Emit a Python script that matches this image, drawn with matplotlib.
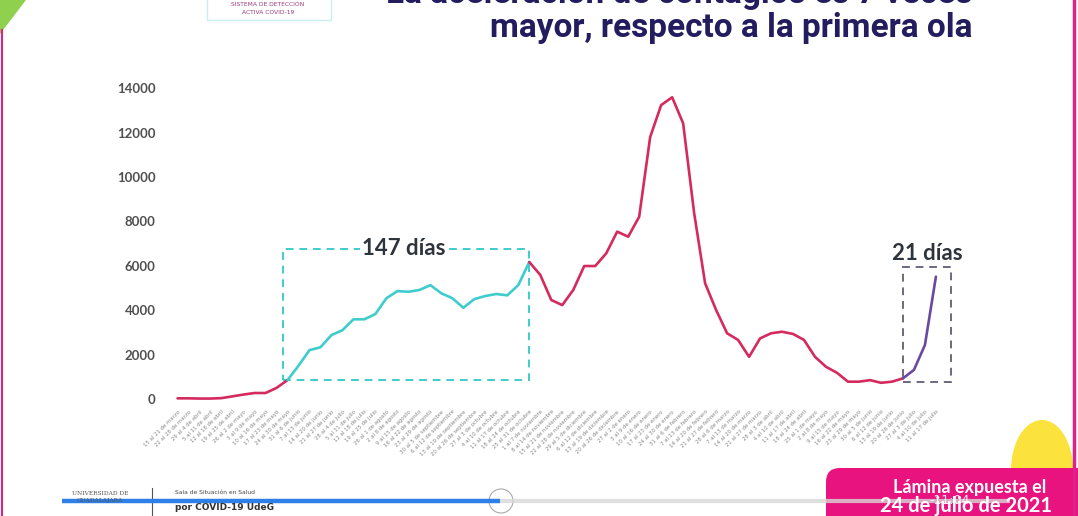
import matplotlib
matplotlib.use("Agg")
import matplotlib.pyplot as plt
from matplotlib.patches import Polygon, Rectangle, FancyBboxPatch, Ellipse, Circle
import pandas as pd

# ---------------- data ----------------
cases = [30, 30, 20, 20, 40, 120, 200, 270, 270, 500,
         850, 1500, 2200, 2330, 2880, 3100, 3590, 3590, 3830, 4540,
         4860, 4830, 4910, 5130, 4760, 4540, 4110, 4500, 4640, 4730,
         4670, 5130, 6170, 5590, 4460, 4230, 4910, 5990, 5990, 6560,
         7540, 7310, 8210, 11800, 13240, 13590, 12420, 8380, 5210, 4010,
         2960, 2660, 1900, 2730, 2960, 3030, 2930, 2660, 1900, 1450,
         1180, 780, 780, 850, 730, 780, 930, 1310, 2430, 5510]
yticks = [0, 2000, 4000, 6000, 8000, 10000, 12000, 14000]
first_wave = (10, 32)      # index range of the 147-day stretch
third_wave = (66, 69)      # index range of the 21-day stretch
meses = ["enero", "febrero", "marzo", "abril", "mayo", "junio", "julio",
         "agosto", "septiembre", "octubre", "noviembre", "diciembre"]
starts = pd.date_range("2020-03-15", periods=len(cases), freq="7D")
week_labels = [f"{s.day} al {(s + pd.Timedelta(days=6)).day} de {meses[(s + pd.Timedelta(days=6)).month - 1]}"
               for s in starts]

RED = "#d42a5e"
TEAL = "#3fcccc"
PURPLE = "#6a4a9e"
NAVY = "#231c5e"
DARK = "#2e343c"
PINK = "#e8137f"

W, H = 1078, 516
fig = plt.figure(figsize=(W / 100, H / 100), dpi=100)
fig.patch.set_facecolor("white")

# pixel helpers for axes placement
x0_px, dx_px = 177.6, 10.99
y0_px, dy_px = 399.0, 0.0222
ax_l, ax_r, ax_t, ax_b = 160, 960, 80, 405
ax = fig.add_axes([ax_l / W, 1 - ax_b / H, (ax_r - ax_l) / W, (ax_b - ax_t) / H])
ax.set_xlim((ax_l - x0_px) / dx_px, (ax_r - x0_px) / dx_px)
ax.set_ylim((y0_px - ax_b) / dy_px, (y0_px - ax_t) / dy_px)
for s in ax.spines.values():
    s.set_visible(False)
ax.patch.set_alpha(0)

xs = list(range(len(cases)))
a, b = first_wave
c, d = third_wave
ax.plot(xs[:a + 1], cases[:a + 1], color=RED, lw=1.9, solid_capstyle="round", zorder=3)
ax.plot(xs[a:b + 1], cases[a:b + 1], color=TEAL, lw=1.9, solid_capstyle="round", zorder=3)
ax.plot(xs[b:c + 1], cases[b:c + 1], color=RED, lw=1.9, solid_capstyle="round", zorder=3)
ax.plot(xs[c:d + 1], cases[c:d + 1], color=PURPLE, lw=1.9, solid_capstyle="round", zorder=3)

# annotation boxes
box1_top = 6750
ax.add_patch(Rectangle((a - 0.4, cases[a]), b - a + 0.4, box1_top - cases[a], fill=False,
                       ec=TEAL, lw=1.4, ls=(0, (4, 3)), zorder=2))
box2_top, box2_right = 5960, d + 1.4
ax.add_patch(Rectangle((c, cases[c] - 150), box2_right - c, box2_top - cases[c] + 150, fill=False,
                       ec="#6e6880", lw=1.4, ls=(0, (4, 3)), zorder=2))
ax.text((a + b) / 2 - 0.4, box1_top + 50, "147 días", ha="center", va="center",
        fontsize=16, fontweight="bold", color=DARK, family="Lato",
        bbox=dict(fc="white", ec="none", pad=2), zorder=4)
ax.text((c + box2_right) / 2, 6550, "21 días", ha="center", va="center",
        fontsize=16, fontweight="bold", color=DARK, family="Lato", zorder=4)

ax.set_yticks(yticks)
ax.set_yticklabels([str(v) for v in yticks], fontsize=9.5, color="#505050",
                   fontweight="bold", family="Lato")
ax.tick_params(axis="y", length=0, pad=3)
ax.set_xticks(xs)
ax.set_xticklabels(week_labels, rotation=45, ha="right", rotation_mode="anchor",
                   fontsize=3.9, color="#8a8a8a")
ax.tick_params(axis="x", length=0, pad=3)

# ---------------- slide decorations ----------------
ov = fig.add_axes([0, 0, 1, 1], zorder=10)
ov.set_xlim(0, W)
ov.set_ylim(H, 0)
ov.axis("off")
ov.patch.set_alpha(0)

ov.add_patch(Polygon([(0, 0), (26, 0), (0, 34)], closed=True, fc="#8fd14f", ec="none"))
ov.plot([1.5, 1.5], [30, H], color="#e0218a", lw=1.5)
ov.plot([1074, 1074], [0, H], color="#e0218a", lw=2.5)

# top logo
ov.add_patch(Rectangle((207, -2), 124, 22, fill=False, ec="#cdeef0", lw=1))
ov.text(268, 5, "SISTEMA DE DETECCIÓN", ha="center", va="center", fontsize=4.3, color="#9a3a78")
ov.text(268, 13, "ACTIVA COVID-19", ha="center", va="center", fontsize=4.3, color="#9a3a78")

# title
ov.text(972, -6, "La aceleración de contagios es 7 veces", ha="right", va="center",
        fontsize=24, fontweight="bold", color=NAVY, family="Roboto")
ov.text(972, 28, "mayor, respecto a la primera ola", ha="right", va="center",
        fontsize=24, fontweight="bold", color=NAVY, family="Roboto")

# yellow blob & pink footer box
ov.add_patch(Ellipse((1042, 470), 62, 100, fc="#fbe23c", ec="none"))
ov.add_patch(FancyBboxPatch((826, 468), 300, 80, boxstyle="round,pad=0,rounding_size=14",
                            fc=PINK, ec="none"))
ov.text(970, 487, "Lámina expuesta el", ha="center", va="center", fontsize=13,
        fontweight="bold", color="white", family="Lato")
ov.text(966, 506, "24 de julio de 2021", ha="center", va="center", fontsize=14.5,
        fontweight="bold", color="white", family="Lato")

# bottom-left logos
ov.text(100, 497, "UNIVERSIDAD DE\nGUADALAJARA", ha="center", va="center", fontsize=4.2,
        color="#555555", family="DejaVu Serif", linespacing=1.3)
ov.plot([152, 152], [488, 516], color="#555555", lw=0.8)
ov.text(175, 492, "Sala de Situación en Salud", ha="left", va="center", fontsize=4.3, color="#444444")
ov.text(175, 507, "por COVID-19 UdeG", ha="left", va="center", fontsize=6.5,
        fontweight="bold", color="#333333")

# video progress bar overlay
ov.plot([500, 1010], [501, 501], color="#d8d8d8", lw=3, solid_capstyle="butt", alpha=0.8)
ov.plot([62, 500], [501, 501], color="#2e7fe6", lw=3.2, solid_capstyle="butt")
ov.add_patch(Circle((501, 501), 12, fc="white", ec="#aaaaaa", lw=0.8))
ov.text(950, 500, "-11:04", ha="center", va="center", fontsize=9, color="white", alpha=0.9)

fig.savefig("out.png", dpi=100, facecolor="white")
